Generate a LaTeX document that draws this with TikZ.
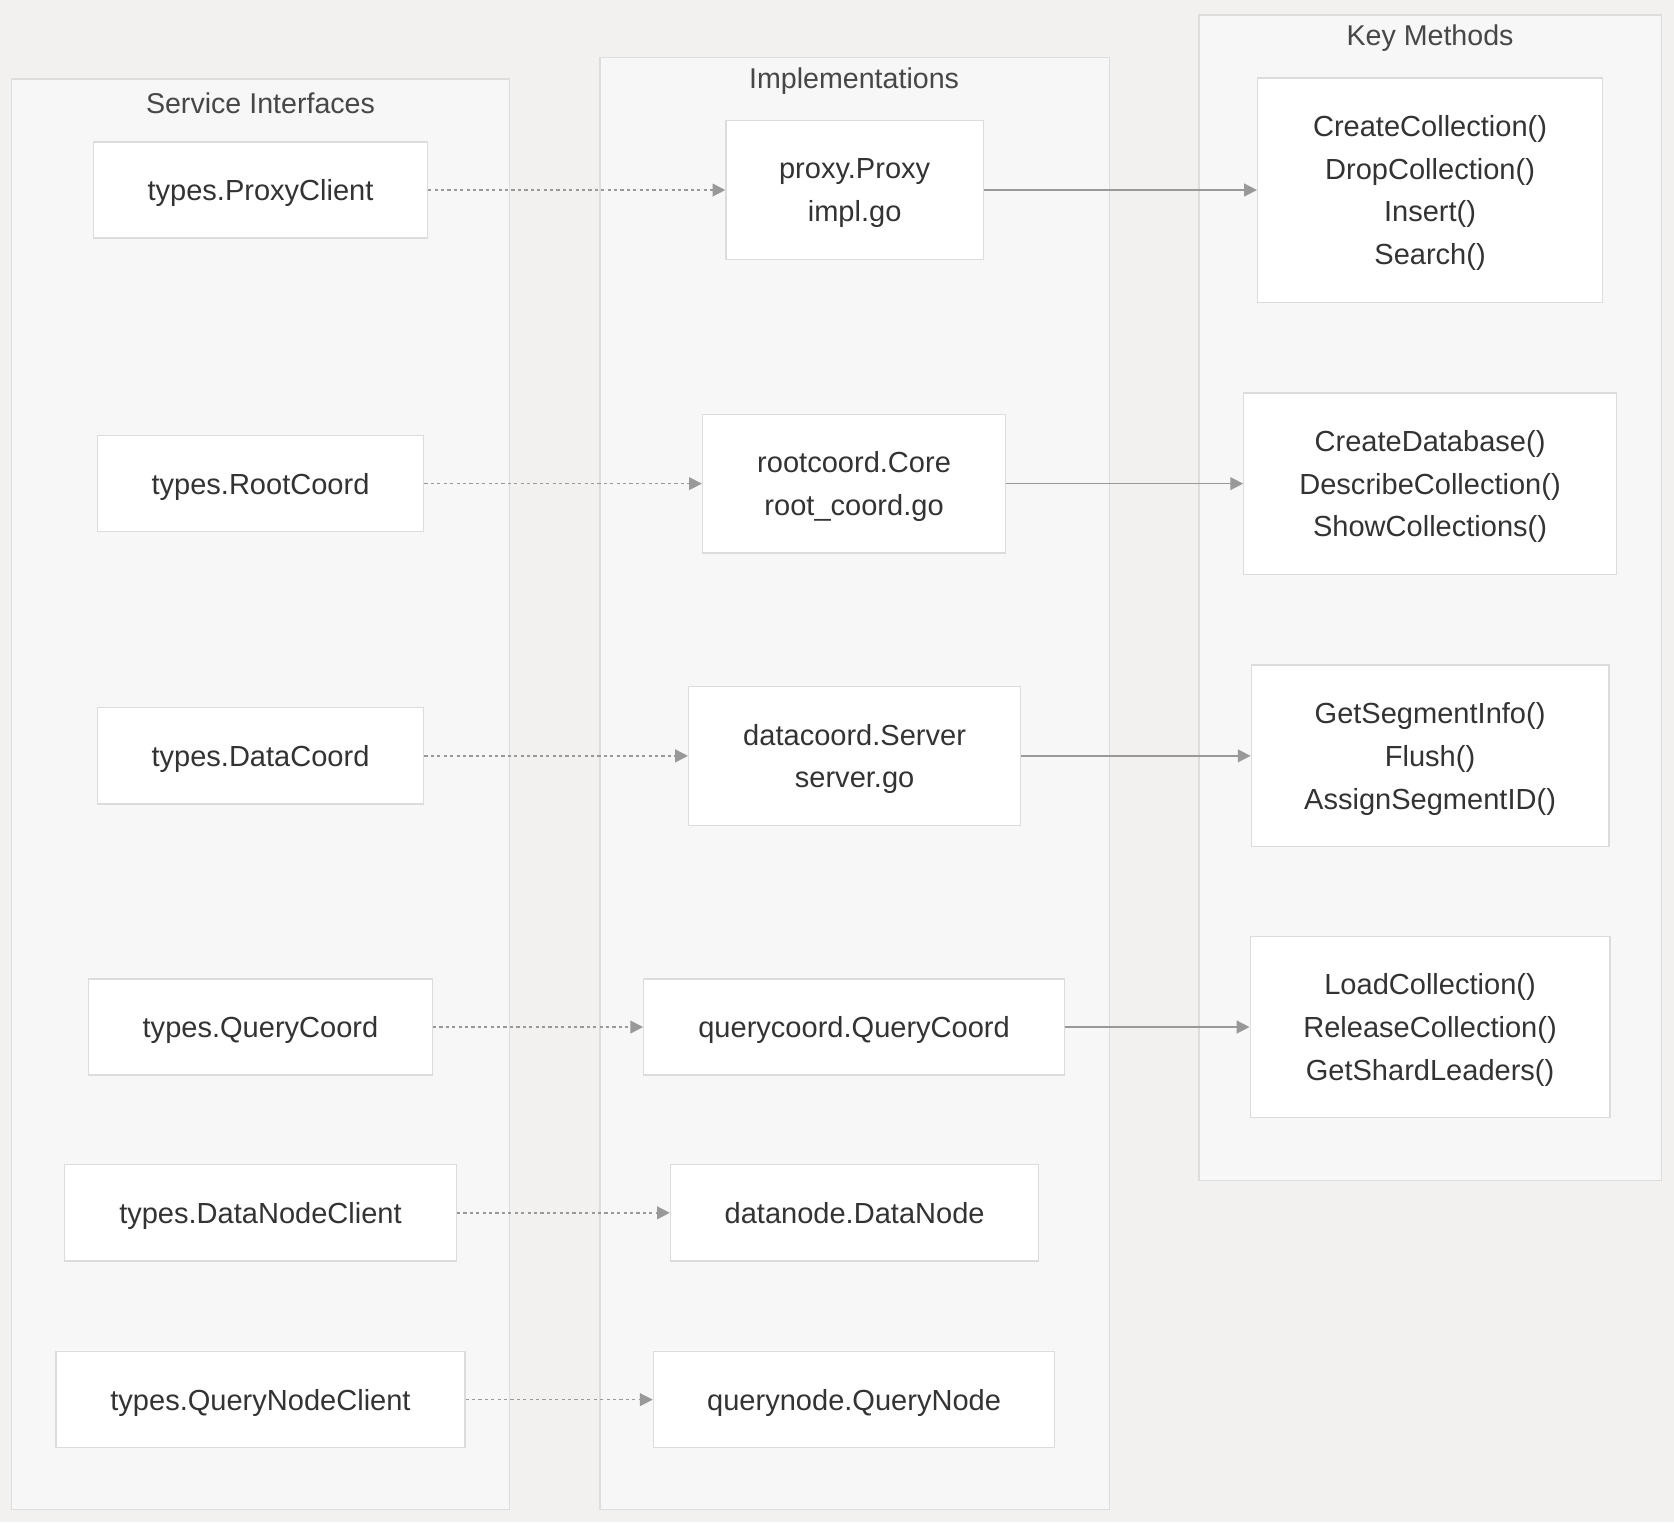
\documentclass[tikz,border=0pt]{standalone}
\usepackage{fontspec}
\setmainfont{Liberation Sans}
\usetikzlibrary{arrows.meta, positioning, backgrounds}

\definecolor{bgcol}{HTML}{F2F1F0}
\definecolor{clustfill}{HTML}{F7F7F7}
\definecolor{clustline}{HTML}{DDDDDD}
\definecolor{boxline}{HTML}{DCDCDC}
\definecolor{edgecol}{HTML}{999999}
\definecolor{textcol}{HTML}{333333}

\begin{document}
\begin{tikzpicture}[
    x=0.5pt, y=-0.5pt,
    font=\fontsize{13.6}{20}\selectfont, text=textcol,
    cluster/.style={rectangle, draw=clustline, fill=clustfill, line width=0.6pt, inner sep=0pt},
    title/.style={font=\fontsize{13.4}{16}\selectfont, text=textcol!90},
    box/.style={rectangle, draw=boxline, fill=white, line width=0.6pt, align=center, inner sep=0pt, minimum height=45pt, text depth=0pt},
    impl/.style={-{Triangle[length=6pt, width=6pt]}, draw=edgecol, line width=0.7pt, dash pattern=on 1.5pt off 1.5pt},
    call/.style={-{Triangle[length=6pt, width=6pt]}, draw=edgecol, line width=0.7pt}
]

\useasboundingbox[fill=bgcol] (0,0) rectangle (1568,1426);

% Groupings
\node[cluster, minimum width=233pt, minimum height=670pt] (ifaces) at (244,744) {};
\node[cluster, minimum width=238.5pt, minimum height=680pt] (impls) at (800.5,734) {};
\node[cluster, minimum width=216.5pt, minimum height=546pt] (methods) at (1339.5,560) {};

\node[title] (ifaces_title) at (244,97) {Service Interfaces};
\node[title] (impls_title) at (800,76) {Implementations};
\node[title] (methods_title) at (1339.5,36) {Key Methods};

% Service interfaces
\node[box, minimum width=156.5pt] (proxy_if) at (244,178) {types.ProxyClient};
\node[box, minimum width=153pt] (root_if) at (244,453) {types.RootCoord};
\node[box, minimum width=153pt] (data_if) at (244,708) {types.DataCoord};
\node[box, minimum width=161pt] (qcoord_if) at (244,962) {types.QueryCoord};
\node[box, minimum width=183.5pt] (dnode_if) at (244,1136) {types.DataNodeClient};
\node[box, minimum width=191.5pt] (qnode_if) at (244,1311) {types.QueryNodeClient};

% Implementations
\node[box, minimum width=120.5pt, minimum height=65pt] (proxy_impl) at (800.5,178) {proxy.Proxy\\impl.go};
\node[box, minimum width=142pt, minimum height=65pt] (root_impl) at (800,453) {rootcoord.Core\\root\_coord.go};
\node[box, minimum width=155.5pt, minimum height=65pt] (data_impl) at (800.5,708) {datacoord.Server\\server.go};
\node[box, minimum width=197pt] (qcoord_impl) at (800,962) {querycoord.QueryCoord};
\node[box, minimum width=172.5pt] (dnode_impl) at (800.5,1136) {datanode.DataNode};
\node[box, minimum width=188pt] (qnode_impl) at (800,1311) {querynode.QueryNode};

% Key methods
\node[box, minimum width=161.5pt, minimum height=105pt] (proxy_m) at (1339.5,178) {CreateCollection()\\DropCollection()\\Insert()\\Search()};
\node[box, minimum width=174.5pt, minimum height=85pt] (root_m) at (1339.5,453) {CreateDatabase()\\DescribeCollection()\\ShowCollections()};
\node[box, minimum width=167.5pt, minimum height=85pt] (data_m) at (1339.5,708) {GetSegmentInfo()\\Flush()\\AssignSegmentID()};
\node[box, minimum width=168.5pt, minimum height=85pt] (qcoord_m) at (1339.5,962) {LoadCollection()\\ReleaseCollection()\\GetShardLeaders()};

\draw[impl] (proxy_if) -- (proxy_impl);
\draw[impl] (root_if) -- (root_impl);
\draw[impl] (data_if) -- (data_impl);
\draw[impl] (qcoord_if) -- (qcoord_impl);
\draw[impl] (dnode_if) -- (dnode_impl);
\draw[impl] (qnode_if) -- (qnode_impl);

\draw[call] (proxy_impl) -- (proxy_m);
\draw[call] (root_impl) -- (root_m);
\draw[call] (data_impl) -- (data_m);
\draw[call] (qcoord_impl) -- (qcoord_m);

\end{tikzpicture}
\end{document}
